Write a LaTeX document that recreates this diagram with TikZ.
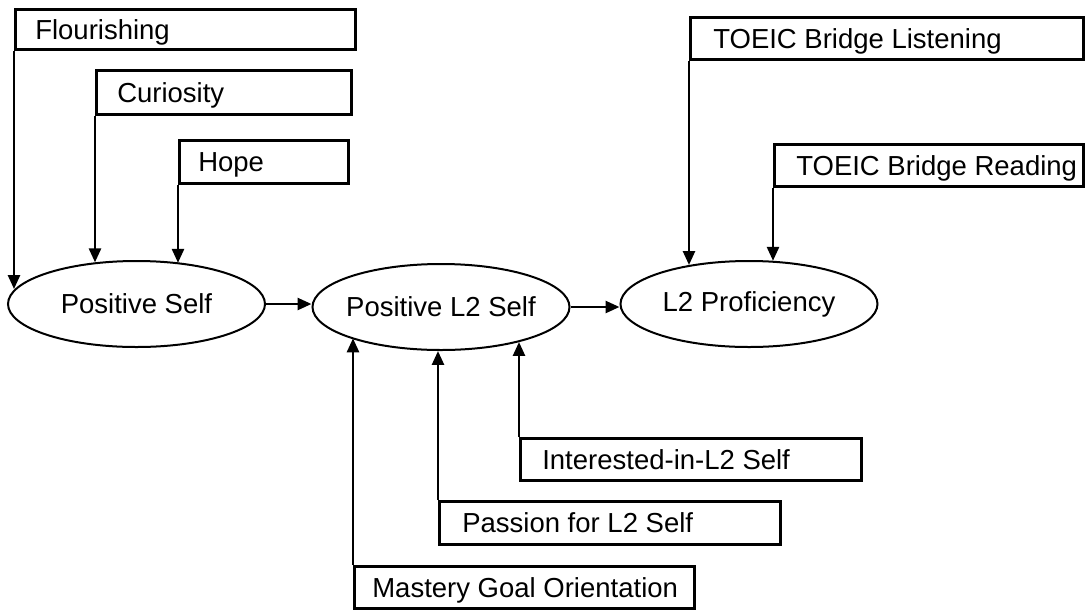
\documentclass[tikz,border=0pt]{standalone}
\usepackage{fontspec}
\setmainfont{Liberation Sans}
\usetikzlibrary{arrows.meta,shapes.geometric}
\newcommand{\lbox}[2]{\makebox[#1][l]{#2}}
\begin{document}
\begin{tikzpicture}[x=1pt,y=-1pt,
  every node/.style={font=\fontsize{27.5}{32}\selectfont},
  mbox/.style={draw, line width=2.6pt, rectangle, anchor=north west, inner ysep=0pt,
    text height=19.5pt, text depth=0pt},
  latent/.style={draw, line width=2pt, ellipse, inner sep=0pt, minimum width=257pt, minimum height=86pt},
  arr/.style={line width=2.6pt, -{Triangle[length=14pt,width=12pt]}}]
\useasboundingbox (0,0) rectangle (1085,611);
% latent variables
\node[latent] (ps) at (136.5,304) {\makebox[0pt]{Positive Self}};
\node[latent] (pl2) at (441,307) {\makebox[0pt]{Positive L2 Self}};
\node[latent] (l2p) at (749,304) {\makebox[0pt]{L2 Proficiency}};
% indicators
\node[mbox, minimum width=340pt, minimum height=40pt, inner xsep=20pt] (flour) at (14,8) {\lbox{300pt}{Flourishing}};
\node[mbox, minimum width=255pt, minimum height=44pt, inner xsep=21pt] (cur) at (95,69) {\lbox{213pt}{Curiosity}};
\node[mbox, minimum width=169pt, minimum height=43pt, inner xsep=19pt] (hope) at (178,139) {\lbox{131pt}{Hope}};
\node[mbox, minimum width=393pt, minimum height=42pt, inner xsep=23pt] (tbl) at (689,16) {\lbox{347pt}{TOEIC Bridge Listening}};
\node[mbox, minimum width=309pt, minimum height=42pt, inner xsep=0pt] (tbr) at (773,143) {\lbox{309pt}{\hspace*{22pt}TOEIC Bridge Reading}};
\node[mbox, minimum width=341pt, minimum height=42pt, inner xsep=22pt] (int) at (519,437) {\lbox{297pt}{Interested-in-L2 Self}};
\node[mbox, minimum width=341pt, minimum height=43pt, inner xsep=23pt] (pas) at (438,500) {\lbox{295pt}{Passion for L2 Self}};
\node[mbox, minimum width=340pt, minimum height=42pt, inner xsep=18pt] (mas) at (353,565) {\lbox{304pt}{Mastery Goal Orientation}};
% structural paths
\draw[arr] (ps.east) -- (pl2.west |- ps.east);
\draw[arr] (pl2.east) -- (l2p.west |- pl2.east);
% measurement paths
\draw[arr] (flour.south west) -- (flour.south west |- ps.173.7);
\draw[arr] (cur.south west) -- (cur.south west |- ps.135.2);
\draw[arr] (hope.south west) -- (hope.south west |- ps.42.6);
\draw[arr] (tbl.south west) -- (tbl.south west |- l2p.147.7);
\draw[arr] (tbr.south west) -- (tbr.south west |- l2p.60.4);
\draw[arr] (mas.north west) -- (mas.north west |- pl2.199.5);
\draw[arr] (pas.north west) -- (pas.north west |- pl2.266);
\draw[arr] (int.north west) -- (int.north west |- pl2.336.4);
\end{tikzpicture}
\end{document}
